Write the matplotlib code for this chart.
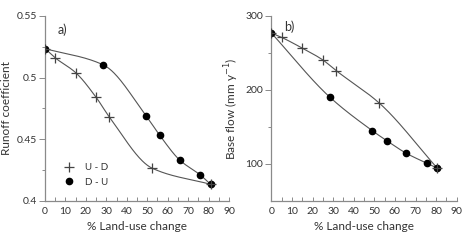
import numpy as np
import matplotlib
matplotlib.use("Agg")
import matplotlib.pyplot as plt
from matplotlib.ticker import MultipleLocator, FixedLocator

plt.rcParams['font.family'] = ['Lato', 'DejaVu Sans']

# panel a: runoff coefficient
a_ud_x = [0, 5, 15, 25, 31.5, 52.5, 81]
a_ud_y = [0.5235, 0.516, 0.504, 0.484, 0.468, 0.4265, 0.4135]
a_du_x = [0, 28.5, 49.5, 56, 66, 76, 81]
a_du_y = [0.5235, 0.5103, 0.469, 0.4535, 0.433, 0.421, 0.4135]

# panel b: base flow
b_ud_x = [0, 5, 15, 25, 31.5, 52.5, 80.5]
b_ud_y = [277, 271, 256.5, 240.5, 226, 182, 94.5]
b_du_x = [0, 28.5, 49, 56, 65.5, 75.5, 80.5]
b_du_y = [277, 190, 145, 131.5, 114.5, 101, 94.5]

x_ticks = [0, 10, 20, 30, 40, 50, 60, 70, 80, 90]
a_yticks = [0.4, 0.45, 0.5, 0.55]
a_ylabels = ["0.4", "0.45", "0.5", "0.55"]
b_yticks = [100, 200, 300]
b_ylabels = ["100", "200", "300"]

LINE = '#555555'
SPINE = '#8a8a8a'
TXT = '#333333'


def smooth(x, y, xs):
    # monotone cubic through the points, secant slopes at the ends
    x = np.asarray(x, float)
    y = np.asarray(y, float)
    h = np.diff(x)
    d = np.diff(y) / h
    n = len(x)
    m = np.zeros(n)
    for k in range(1, n - 1):
        if d[k - 1] * d[k] > 0:
            w1 = 2 * h[k] + h[k - 1]
            w2 = h[k] + 2 * h[k - 1]
            m[k] = (w1 + w2) / (w1 / d[k - 1] + w2 / d[k])
    m[0] = d[0]
    m[-1] = d[-1]
    idx = np.clip(np.searchsorted(x, xs) - 1, 0, n - 2)
    t = (xs - x[idx]) / h[idx]
    h00 = 2 * t**3 - 3 * t**2 + 1
    h10 = t**3 - 2 * t**2 + t
    h01 = -2 * t**3 + 3 * t**2
    h11 = t**3 - t**2
    return h00 * y[idx] + h10 * h[idx] * m[idx] + h01 * y[idx + 1] + h11 * h[idx] * m[idx + 1]


def draw(ax, ud_x, ud_y, du_x, du_y):
    for xs, ys in ((ud_x, ud_y), (du_x, du_y)):
        xx = np.linspace(xs[0], xs[-1], 200)
        ax.plot(xx, smooth(xs, ys, xx), color=LINE, lw=0.8, zorder=1)
    ax.plot(ud_x, ud_y, ls='none', marker='+', ms=7, mew=0.9, color='#444444',
            label='U - D', zorder=3)
    ax.plot(du_x, du_y, ls='none', marker='o', ms=4.5, color='black',
            label='D - U', zorder=2)


def style(ax):
    for s in ('top', 'right'):
        ax.spines[s].set_visible(False)
    for s in ('left', 'bottom'):
        ax.spines[s].set_color(SPINE)
        ax.spines[s].set_linewidth(0.9)
    ax.set_xlim(0, 90)
    ax.xaxis.set_major_locator(FixedLocator(x_ticks))
    ax.xaxis.set_minor_locator(MultipleLocator(5))
    ax.tick_params(axis='x', which='both', direction='in', length=3, width=0.7,
                   color=SPINE, labelsize=7.5, labelcolor=TXT, pad=4)
    ax.tick_params(axis='y', which='major', direction='out', length=4, width=0.7,
                   color=SPINE, labelsize=7.5, labelcolor=TXT, pad=2)
    ax.tick_params(axis='y', which='minor', direction='out', length=2.5, width=0.7,
                   color=SPINE)
    ax.set_xlabel('% Land-use change', fontsize=8.5, color=TXT, labelpad=4)


fig = plt.figure(figsize=(4.67, 2.41), dpi=100)
ax1 = fig.add_axes([0.0964, 0.166, 0.394, 0.768])
ax2 = fig.add_axes([0.581, 0.166, 0.397, 0.768])

draw(ax1, a_ud_x, a_ud_y, a_du_x, a_du_y)
style(ax1)
ax1.set_ylim(0.4, 0.55)
ax1.set_yticks(a_yticks)
ax1.set_yticklabels(a_ylabels)
ax1.yaxis.set_minor_locator(MultipleLocator(0.025))
ax1.set_ylabel('Runoff coefficient', fontsize=8.5, color=TXT, labelpad=3)
ax1.text(6.2, 0.539, 'a)', fontsize=9, color=TXT, va='center')
ax1.legend(loc='lower left', bbox_to_anchor=(0.05, 0.03), frameon=False,
           fontsize=7, handlelength=1.2, handletextpad=1.1, labelspacing=0.55,
           labelcolor=TXT)

draw(ax2, b_ud_x, b_ud_y, b_du_x, b_du_y)
style(ax2)
ax2.set_ylim(50, 300)
ax2.set_yticks(b_yticks)
ax2.set_yticklabels(b_ylabels)
ax2.yaxis.set_minor_locator(FixedLocator([150, 250]))
ax2.set_ylabel('Base flow (mm y$^{-1}$)', fontsize=8.5, color=TXT, labelpad=3)
ax2.text(6.4, 285, 'b)', fontsize=9, color=TXT, va='center')

fig.savefig('out.png', dpi=100)
